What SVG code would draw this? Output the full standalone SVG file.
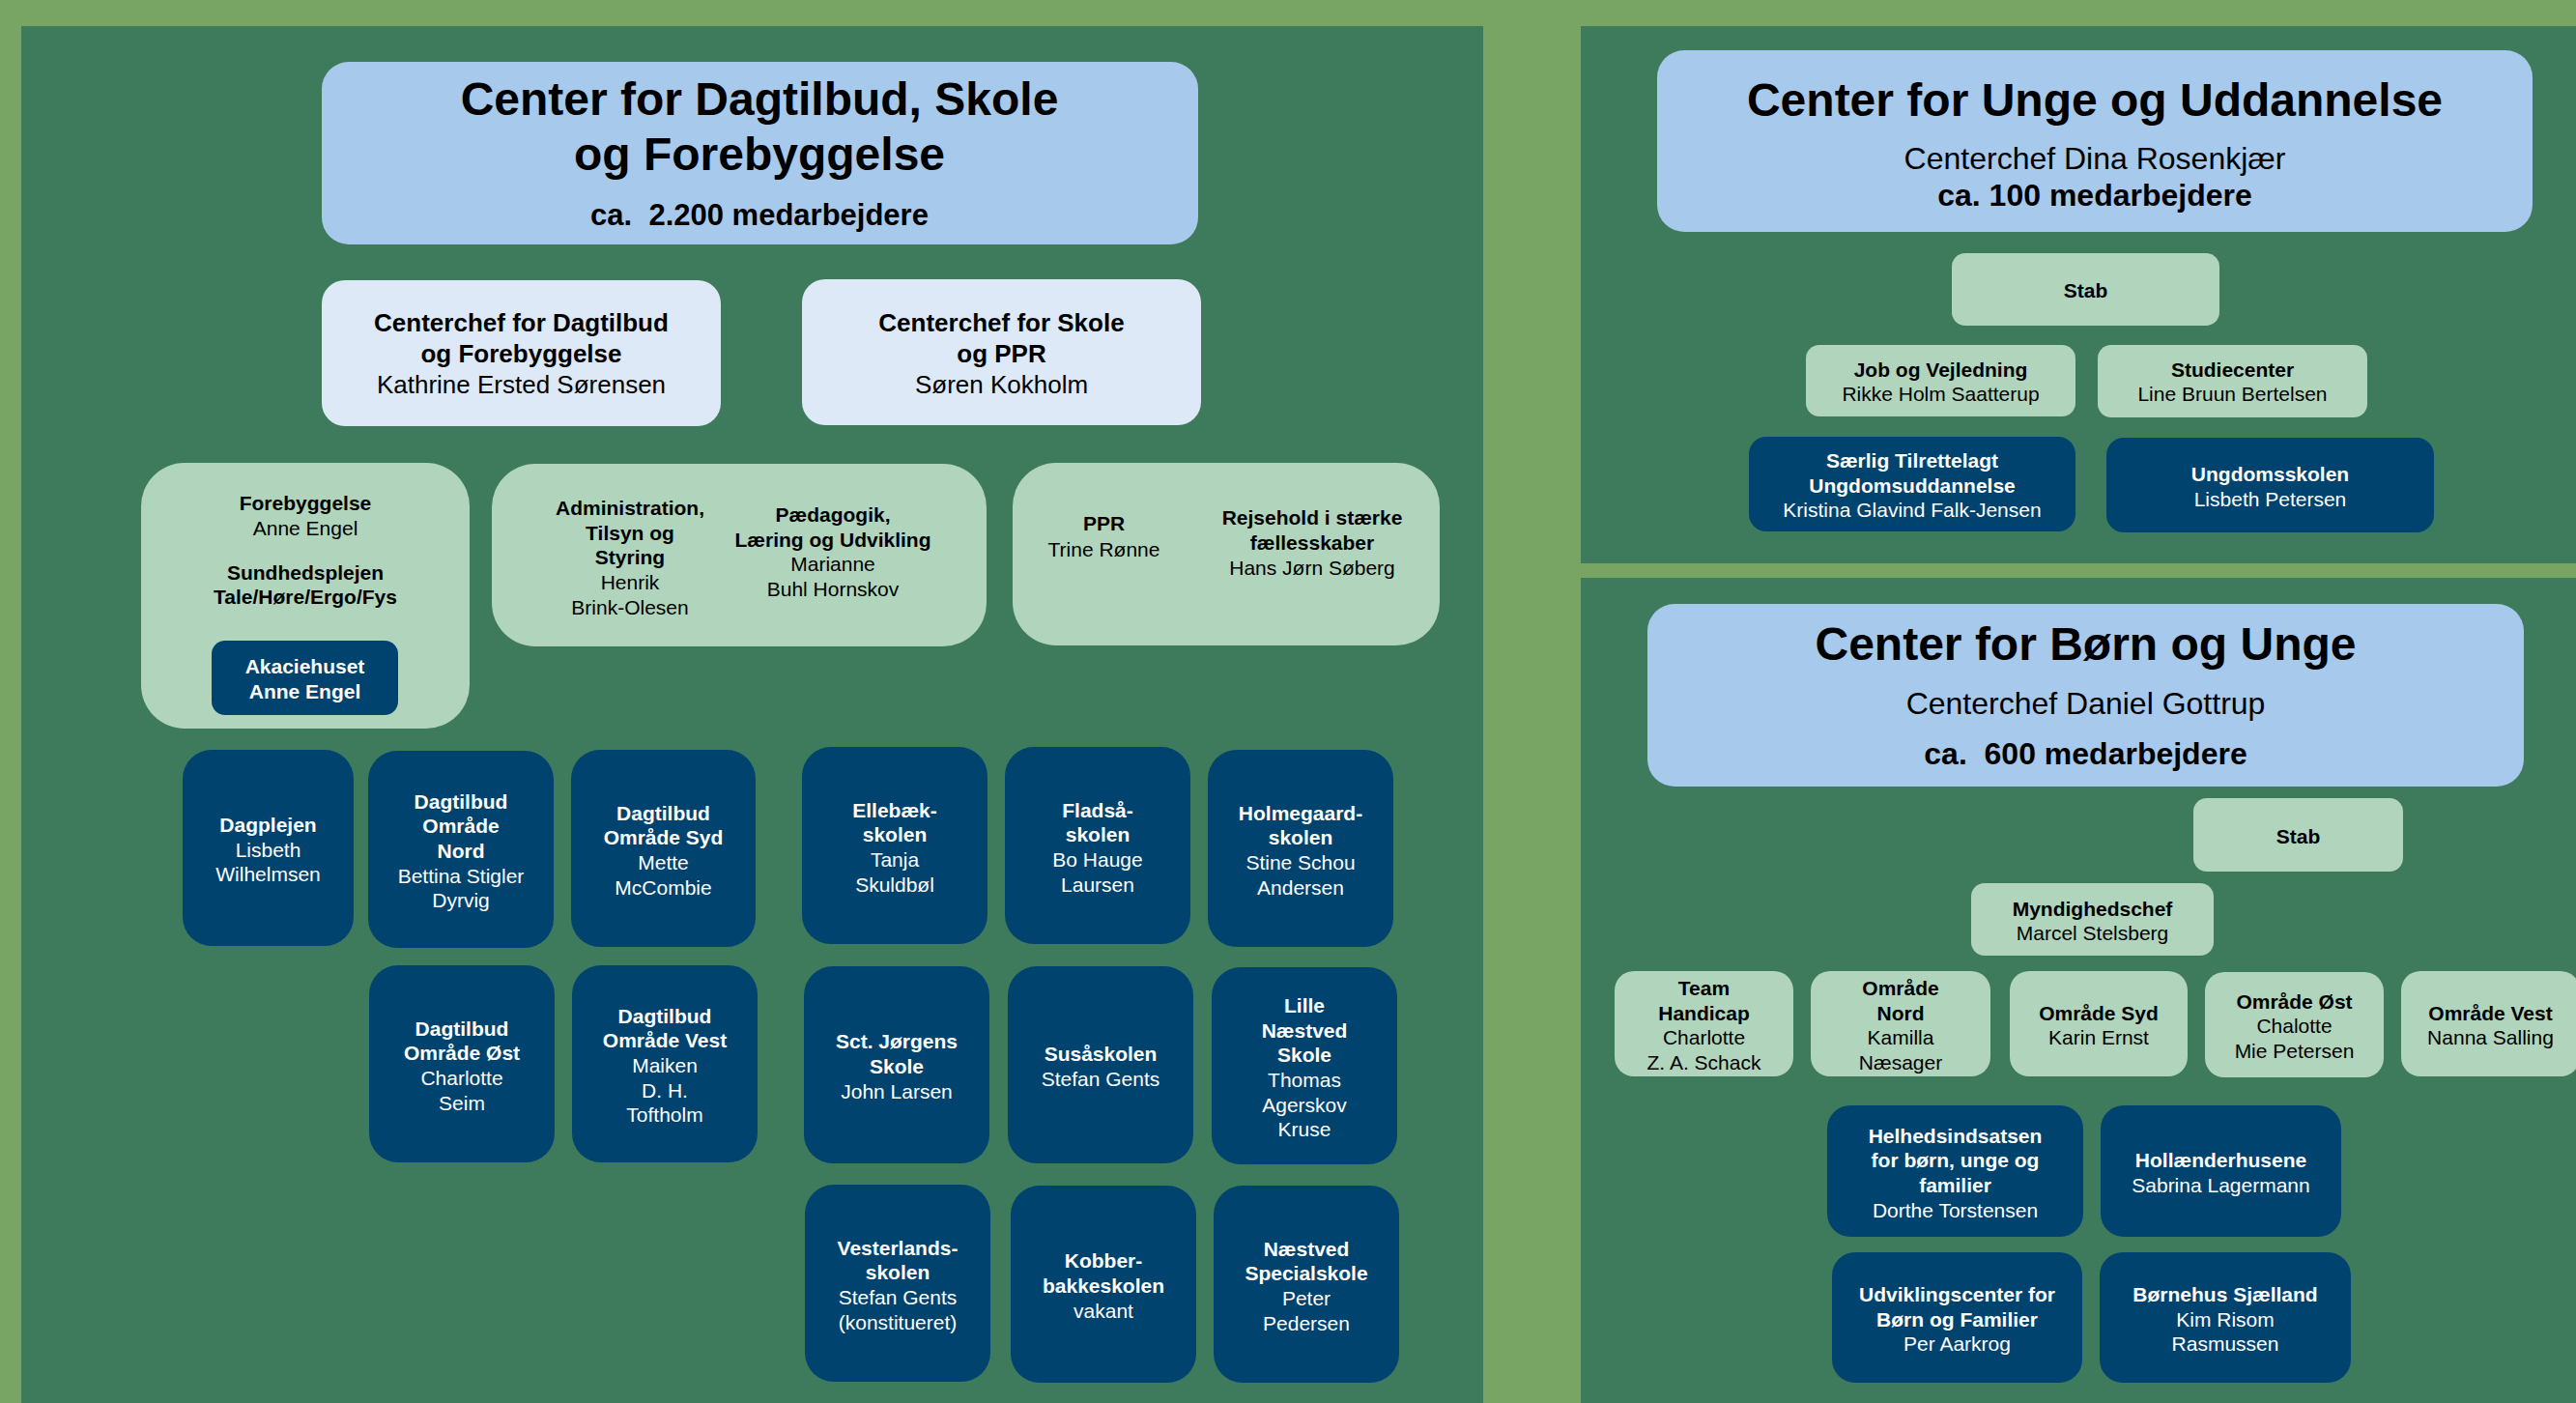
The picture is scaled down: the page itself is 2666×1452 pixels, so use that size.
<svg xmlns="http://www.w3.org/2000/svg" width="2666" height="1452" viewBox="0 0 2666 1452">
<style>
text{font-family:"Liberation Sans",Arial,sans-serif;text-anchor:middle;fill:#000}
.b{font-weight:bold}
.h1{font-size:48px;font-weight:bold}
.h2{font-size:32px}
.h3{font-size:31px;font-weight:bold}
.cc{font-size:26px}
.s{font-size:21px}
.w text,text.w,.w tspan{fill:#fff}
.title{fill:#a7c9eb}
.chef{fill:#dde9f7}
.lg{fill:#b0d5bc}
.nv{fill:#01436f}
</style>
<rect x="0" y="0" width="2666" height="1452" fill="#78a563"/>
<g id="panels">
<rect x="22" y="27" width="1513" height="1425" fill="#3e7b5c"/>
<rect x="1636" y="27" width="1030" height="556" fill="#3e7b5c"/>
<rect x="1636" y="598" width="1030" height="854" fill="#3e7b5c"/>
</g>
<g id="connectors"/>

<!-- Left panel -->
<g id="cdsf-title">
<rect class="title" x="333" y="64" width="907" height="189" rx="28"/>
<text class="h1" x="786" y="119">Center for Dagtilbud, Skole</text>
<text class="h1" x="786" y="176">og Forebyggelse</text>
<text class="h3" x="786" y="233">ca.&#160; 2.200 medarbejdere</text>
</g>
<g id="chef-dagtilbud">
<rect class="chef" x="333" y="290" width="413" height="151" rx="24"/>
<text class="cc b" x="539.5" y="343">Centerchef for Dagtilbud</text>
<text class="cc b" x="539.5" y="375">og Forebyggelse</text>
<text class="cc" x="539.5" y="407">Kathrine Ersted Sørensen</text>
</g>
<g id="chef-skole">
<rect class="chef" x="830" y="289" width="413" height="151" rx="24"/>
<text class="cc b" x="1036.5" y="343">Centerchef for Skole</text>
<text class="cc b" x="1036.5" y="375">og PPR</text>
<text class="cc" x="1036.5" y="407">Søren Kokholm</text>
</g>
<g id="forebyggelse">
<rect class="lg" x="146" y="479" width="340" height="275" rx="45"/>
<text class="s b" x="316" y="528">Forebyggelse</text>
<text class="s" x="316" y="554">Anne Engel</text>
<text class="s b" x="316" y="600">Sundhedsplejen</text>
<text class="s b" x="316" y="625">Tale/Høre/Ergo/Fys</text>
</g>
<g id="akaciehuset" class="w">
<rect class="nv" x="219" y="663" width="193" height="77" rx="14"/>
<text class="s b" x="315.5" y="697">Akaciehuset</text>
<text class="s b" x="315.5" y="723">Anne Engel</text>
</g>
<g id="administration">
<rect class="lg" x="509" y="480" width="512" height="189" rx="45"/>
<text class="s b" x="652" y="533">Administration,</text>
<text class="s b" x="652" y="559">Tilsyn og</text>
<text class="s b" x="652" y="584">Styring</text>
<text class="s" x="652" y="610">Henrik</text>
<text class="s" x="652" y="636">Brink-Olesen</text>
<text class="s b" x="862" y="540">Pædagogik,</text>
<text class="s b" x="862" y="566">Læring og Udvikling</text>
<text class="s" x="862" y="591">Marianne</text>
<text class="s" x="862" y="617">Buhl Hornskov</text>
</g>
<g id="ppr">
<rect class="lg" x="1048" y="479" width="442" height="189" rx="45"/>
<text class="s b" x="1142.5" y="549">PPR</text>
<text class="s" x="1142.5" y="576">Trine Rønne</text>
<text class="s b" x="1358" y="543">Rejsehold i stærke</text>
<text class="s b" x="1358" y="569">fællesskaber</text>
<text class="s" x="1358" y="595">Hans Jørn Søberg</text>
</g>

<g id="dagplejen" class="w">
<rect class="nv" x="189" y="776" width="177" height="203" rx="30"/>
<text class="s" x="277.5" y="861"><tspan class="b">Dagplejen</tspan><tspan x="277.5" dy="25.7">Lisbeth</tspan><tspan x="277.5" dy="25.7">Wilhelmsen</tspan></text>
</g>
<g id="dagtilbud-nord" class="w">
<rect class="nv" x="381" y="777" width="192" height="204" rx="30"/>
<text class="s" x="477" y="836.6"><tspan class="b">Dagtilbud</tspan><tspan class="b" x="477" dy="25.7">Område</tspan><tspan class="b" x="477" dy="25.7">Nord</tspan><tspan x="477" dy="25.7">Bettina Stigler</tspan><tspan x="477" dy="25.7">Dyrvig</tspan></text>
</g>
<g id="dagtilbud-syd" class="w">
<rect class="nv" x="591" y="776" width="191" height="204" rx="30"/>
<text class="s" x="686.5" y="848.5"><tspan class="b">Dagtilbud</tspan><tspan class="b" x="686.5" dy="25.7">Område Syd</tspan><tspan x="686.5" dy="25.7">Mette</tspan><tspan x="686.5" dy="25.7">McCombie</tspan></text>
</g>
<g id="dagtilbud-oest" class="w">
<rect class="nv" x="382" y="999" width="192" height="204" rx="30"/>
<text class="s" x="478" y="1071.5"><tspan class="b">Dagtilbud</tspan><tspan class="b" x="478" dy="25.7">Område Øst</tspan><tspan x="478" dy="25.7">Charlotte</tspan><tspan x="478" dy="25.7">Seim</tspan></text>
</g>
<g id="dagtilbud-vest" class="w">
<rect class="nv" x="592" y="999" width="192" height="204" rx="30"/>
<text class="s" x="688" y="1058.6"><tspan class="b">Dagtilbud</tspan><tspan class="b" x="688" dy="25.7">Område Vest</tspan><tspan x="688" dy="25.7">Maiken</tspan><tspan x="688" dy="25.7">D. H.</tspan><tspan x="688" dy="25.7">Toftholm</tspan></text>
</g>

<g id="ellebaek" class="w">
<rect class="nv" x="830" y="773" width="192" height="204" rx="30"/>
<text class="s" x="926" y="845.5"><tspan class="b">Ellebæk-</tspan><tspan class="b" x="926" dy="25.7">skolen</tspan><tspan x="926" dy="25.7">Tanja</tspan><tspan x="926" dy="25.7">Skuldbøl</tspan></text>
</g>
<g id="fladsaa" class="w">
<rect class="nv" x="1040" y="773" width="192" height="204" rx="30"/>
<text class="s" x="1136" y="845.5"><tspan class="b">Fladså-</tspan><tspan class="b" x="1136" dy="25.7">skolen</tspan><tspan x="1136" dy="25.7">Bo Hauge</tspan><tspan x="1136" dy="25.7">Laursen</tspan></text>
</g>
<g id="holmegaard" class="w">
<rect class="nv" x="1250" y="776" width="192" height="204" rx="30"/>
<text class="s" x="1346" y="848.5"><tspan class="b">Holmegaard-</tspan><tspan class="b" x="1346" dy="25.7">skolen</tspan><tspan x="1346" dy="25.7">Stine Schou</tspan><tspan x="1346" dy="25.7">Andersen</tspan></text>
</g>
<g id="sct-joergens" class="w">
<rect class="nv" x="832" y="1000" width="192" height="204" rx="30"/>
<text class="s" x="928" y="1085.3"><tspan class="b">Sct. Jørgens</tspan><tspan class="b" x="928" dy="25.7">Skole</tspan><tspan x="928" dy="25.7">John Larsen</tspan></text>
</g>
<g id="susaaskolen" class="w">
<rect class="nv" x="1043" y="1000" width="192" height="204" rx="30"/>
<text class="s" x="1139" y="1098"><tspan class="b">Susåskolen</tspan><tspan x="1139" dy="25.7">Stefan Gents</tspan></text>
</g>
<g id="lille-naestved" class="w">
<rect class="nv" x="1254" y="1001" width="192" height="204" rx="30"/>
<text class="s" x="1350" y="1047.8"><tspan class="b">Lille</tspan><tspan class="b" x="1350" dy="25.7">Næstved</tspan><tspan class="b" x="1350" dy="25.7">Skole</tspan><tspan x="1350" dy="25.7">Thomas</tspan><tspan x="1350" dy="25.7">Agerskov</tspan><tspan x="1350" dy="25.7">Kruse</tspan></text>
</g>
<g id="vesterlands" class="w">
<rect class="nv" x="833" y="1226" width="192" height="204" rx="30"/>
<text class="s" x="929" y="1298.5"><tspan class="b">Vesterlands-</tspan><tspan class="b" x="929" dy="25.7">skolen</tspan><tspan x="929" dy="25.7">Stefan Gents</tspan><tspan x="929" dy="25.7">(konstitueret)</tspan></text>
</g>
<g id="kobberbakke" class="w">
<rect class="nv" x="1046" y="1227" width="192" height="204" rx="30"/>
<text class="s" x="1142" y="1312.3"><tspan class="b">Kobber-</tspan><tspan class="b" x="1142" dy="25.7">bakkeskolen</tspan><tspan x="1142" dy="25.7">vakant</tspan></text>
</g>
<g id="naestved-special" class="w">
<rect class="nv" x="1256" y="1227" width="192" height="204" rx="30"/>
<text class="s" x="1352" y="1299.5"><tspan class="b">Næstved</tspan><tspan class="b" x="1352" dy="25.7">Specialskole</tspan><tspan x="1352" dy="25.7">Peter</tspan><tspan x="1352" dy="25.7">Pedersen</tspan></text>
</g>

<!-- Right top panel -->
<g id="cuu-title">
<rect class="title" x="1715" y="52" width="906" height="188" rx="28"/>
<text class="h1" x="2168" y="120">Center for Unge og Uddannelse</text>
<text class="h2" x="2168" y="175">Centerchef Dina Rosenkjær</text>
<text class="h2 b" x="2168" y="213">ca. 100 medarbejdere</text>
</g>
<g id="cuu-stab">
<rect class="lg" x="2020" y="262" width="277" height="75" rx="14"/>
<text class="s b" x="2158.5" y="308">Stab</text>
</g>
<g id="job-vejledning">
<rect class="lg" x="1869" y="357" width="279" height="74" rx="14"/>
<text class="s b" x="2008.5" y="390">Job og Vejledning</text>
<text class="s" x="2008.5" y="415">Rikke Holm Saatterup</text>
</g>
<g id="studiecenter">
<rect class="lg" x="2171" y="357" width="279" height="75" rx="14"/>
<text class="s b" x="2310.5" y="390">Studiecenter</text>
<text class="s" x="2310.5" y="415">Line Bruun Bertelsen</text>
</g>
<g id="stu" class="w">
<rect class="nv" x="1810" y="452" width="338" height="98" rx="18"/>
<text class="s b" x="1979" y="484">Særlig Tilrettelagt</text>
<text class="s b" x="1979" y="510">Ungdomsuddannelse</text>
<text class="s" x="1979" y="535">Kristina Glavind Falk-Jensen</text>
</g>
<g id="ungdomsskolen" class="w">
<rect class="nv" x="2180" y="453" width="339" height="98" rx="18"/>
<text class="s b" x="2349.5" y="498">Ungdomsskolen</text>
<text class="s" x="2349.5" y="524">Lisbeth Petersen</text>
</g>

<!-- Right bottom panel -->
<g id="cbu-title">
<rect class="title" x="1705" y="625" width="907" height="189" rx="28"/>
<text class="h1" x="2158.5" y="683">Center for Børn og Unge</text>
<text class="h2" x="2158.5" y="738.5">Centerchef Daniel Gottrup</text>
<text class="h2 b" x="2158.5" y="791">ca.&#160; 600 medarbejdere</text>
</g>
<g id="cbu-stab">
<rect class="lg" x="2270" y="826" width="217" height="76" rx="14"/>
<text class="s b" x="2378.5" y="873">Stab</text>
</g>
<g id="myndighedschef">
<rect class="lg" x="2040" y="914" width="251" height="75" rx="14"/>
<text class="s b" x="2165.5" y="947.6">Myndighedschef</text>
<text class="s" x="2165.5" y="973.3">Marcel Stelsberg</text>
</g>
<g id="team-handicap">
<rect class="lg" x="1671" y="1005" width="185" height="109" rx="20"/>
<text class="s" x="1763.5" y="1030"><tspan class="b">Team</tspan><tspan class="b" x="1763.5" dy="25.7">Handicap</tspan><tspan x="1763.5" dy="25.7">Charlotte</tspan><tspan x="1763.5" dy="25.7">Z. A. Schack</tspan></text>
</g>
<g id="omraade-nord">
<rect class="lg" x="1874" y="1005" width="186" height="109" rx="20"/>
<text class="s" x="1967" y="1030"><tspan class="b">Område</tspan><tspan class="b" x="1967" dy="25.7">Nord</tspan><tspan x="1967" dy="25.7">Kamilla</tspan><tspan x="1967" dy="25.7">Næsager</tspan></text>
</g>
<g id="omraade-syd">
<rect class="lg" x="2080" y="1005" width="184" height="109" rx="20"/>
<text class="s" x="2172" y="1055.6"><tspan class="b">Område Syd</tspan><tspan x="2172" dy="25.7">Karin Ernst</tspan></text>
</g>
<g id="omraade-oest">
<rect class="lg" x="2282" y="1006" width="185" height="109" rx="20"/>
<text class="s" x="2374.5" y="1043.5"><tspan class="b">Område Øst</tspan><tspan x="2374.5" dy="25.7">Chalotte</tspan><tspan x="2374.5" dy="25.7">Mie Petersen</tspan></text>
</g>
<g id="omraade-vest">
<rect class="lg" x="2485" y="1005" width="185" height="109" rx="20"/>
<text class="s" x="2577.5" y="1055.6"><tspan class="b">Område Vest</tspan><tspan x="2577.5" dy="25.7">Nanna Salling</tspan></text>
</g>
<g id="helhedsindsatsen" class="w">
<rect class="nv" x="1891" y="1144" width="265" height="136" rx="24"/>
<text class="s" x="2023.5" y="1182.5"><tspan class="b">Helhedsindsatsen</tspan><tspan class="b" x="2023.5" dy="25.7">for børn, unge og</tspan><tspan class="b" x="2023.5" dy="25.7">familier</tspan><tspan x="2023.5" dy="25.7">Dorthe Torstensen</tspan></text>
</g>
<g id="hollaenderhusene" class="w">
<rect class="nv" x="2174" y="1144" width="249" height="136" rx="24"/>
<text class="s" x="2298.5" y="1208"><tspan class="b">Hollænderhusene</tspan><tspan x="2298.5" dy="25.7">Sabrina Lagermann</tspan></text>
</g>
<g id="udviklingscenter" class="w">
<rect class="nv" x="1896" y="1296" width="259" height="135" rx="24"/>
<text class="s" x="2025.5" y="1346.8"><tspan class="b">Udviklingscenter for</tspan><tspan class="b" x="2025.5" dy="25.7">Børn og Familier</tspan><tspan x="2025.5" dy="25.7">Per Aarkrog</tspan></text>
</g>
<g id="boernehus" class="w">
<rect class="nv" x="2173" y="1296" width="260" height="135" rx="24"/>
<text class="s" x="2303" y="1346.8"><tspan class="b">Børnehus Sjælland</tspan><tspan x="2303" dy="25.7">Kim Risom</tspan><tspan x="2303" dy="25.7">Rasmussen</tspan></text>
</g>
</svg>
